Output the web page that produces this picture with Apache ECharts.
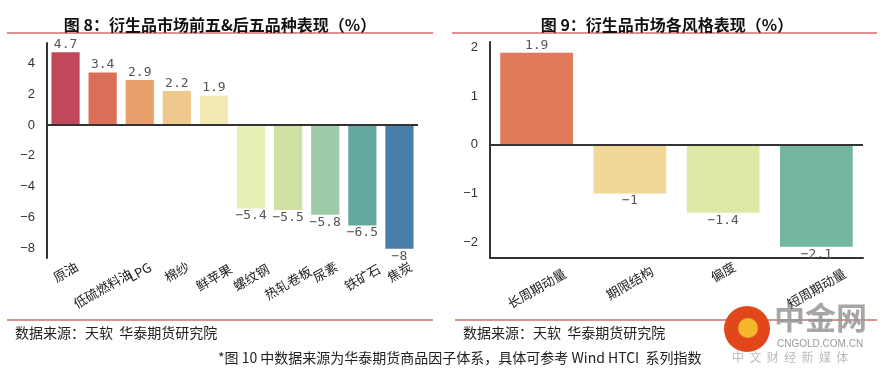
<!DOCTYPE html>
<html>
<head>
<meta charset="utf-8">
<script src="https://cdn.jsdelivr.net/npm/echarts@6/dist/echarts.min.js"></script>
<style>
  html, body { margin: 0; padding: 0; background: #fff; }
  #main { width: 881px; height: 376px; }
</style>
</head>
<body>
<div id="main"></div>
<script>
// 图8 前五&后五品种
var leftNames = ['原油', '低硫燃料油', 'LPG', '棉纱', '鲜苹果', '螺纹钢', '热轧卷板', '尿素', '铁矿石', '焦炭'];
var leftValues = [4.7, 3.4, 2.9, 2.2, 1.9, -5.4, -5.5, -5.8, -6.5, -8];
var leftColors = ['#C1485B', '#DB6E58', '#E89F6C', '#EEC98B', '#F4E9B2', '#E9F0B5', '#CFE2A3', '#9FCCA8', '#65A8A0', '#4A7EAC'];
var leftTicks = [-8, -6, -4, -2, 0, 2, 4];

// 图9 各风格
var rightNames = ['长周期动量', '期限结构', '偏度', '短周期动量'];
var rightValues = [1.9, -1, -1.4, -2.1];
var rightColors = ['#E07A5A', '#F1D899', '#DEE9A5', '#74B5A0'];
var rightTicks = [-2, -1, 0, 1, 2];

var cjk = '"Noto Sans CJK SC", sans-serif';
var redLine = '#D76B6B';

function minus(v) {
    return String(v).replace('-', '\u2212');
}

// 斜着的标签：越长越往下挪
function textLen(s) {
    var n = 0;
    for (var i = 0; i < s.length; i++) {
        n += s.charCodeAt(i) > 255 ? 1 : 0.6;
    }
    return n;
}
var rich = {};
for (var k = 0; k <= 14; k++) {
    var d = Math.max(0, (k / 2 - 2) * 5.5);
    rich['l' + k] = {
        fontFamily: cjk, fontSize: 13, color: '#222',
        padding: [d * 1.73, d, 0, 0]
    };
}
function catLabel(v) {
    var k = Math.round(textLen(v) * 2);
    return '{l' + k + '|' + v + '}';
}

function barData(values, colors) {
    return values.map(function (v, i) {
        return {
            value: v,
            itemStyle: { color: colors[i] },
            label: { position: v >= 0 ? 'top' : 'bottom' }
        };
    });
}

var zeroLine = {
    silent: true,
    symbol: 'none',
    label: { show: false },
    lineStyle: { color: '#333', width: 2, type: 'solid' },
    data: [{ yAxis: 0 }]
};

var valueLabel = {
    show: true,
    distance: 1,
    fontFamily: '"DejaVu Sans Mono", monospace',
    fontSize: 13,
    color: '#555',
    formatter: function (p) { return minus(p.value); }
};

var mcharts = echarts.init(document.getElementById('main'));
option = {
    animation: false,
    title: [
        {
            text: '图 8：衍生品市场前五&后五品种表现（%）',
            left: 215, top: 12, textAlign: 'center',
            textStyle: { fontFamily: cjk, fontSize: 16, fontWeight: 'bold', color: '#111' }
        },
        {
            text: '图 9：衍生品市场各风格表现（%）',
            left: 662, top: 12, textAlign: 'center',
            textStyle: { fontFamily: cjk, fontSize: 16, fontWeight: 'bold', color: '#111' }
        }
    ],
    grid: [
        { left: 47, right: 463, top: 43, bottom: 118 },
        { left: 490, right: 18, top: 42, bottom: 118 }
    ],
    xAxis: [
        {
            type: 'category',
            gridIndex: 0,
            data: leftNames,
            axisLine: { show: false },
            axisTick: { show: false },
            axisLabel: {
                interval: 0, rotate: 30, margin: 14,
                align: 'center', verticalAlign: 'middle',
                formatter: catLabel, rich: rich
            }
        },
        {
            type: 'category',
            gridIndex: 1,
            data: rightNames,
            axisLine: { show: true, onZero: false, lineStyle: { color: '#333', width: 2 } },
            axisTick: { show: false },
            axisLabel: {
                interval: 0, rotate: 30, margin: 14,
                align: 'center', verticalAlign: 'middle',
                formatter: catLabel, rich: rich
            }
        }
    ],
    yAxis: [
        {
            type: 'value',
            gridIndex: 0,
            min: -8.6, max: 5.3,
            splitLine: { show: false },
            axisLine: { show: true, lineStyle: { color: '#333', width: 2 } },
            axisTick: { show: false },
            axisLabel: {
                customValues: leftTicks, margin: 12,
                fontFamily: 'Liberation Sans, Arial', fontSize: 13, color: '#333',
                formatter: minus
            }
        },
        {
            type: 'value',
            gridIndex: 1,
            min: -2.33, max: 2.12,
            splitLine: { show: false },
            axisLine: { show: true, lineStyle: { color: '#333', width: 2 } },
            axisTick: { show: false },
            axisLabel: {
                customValues: rightTicks, margin: 12,
                fontFamily: 'Liberation Sans, Arial', fontSize: 13, color: '#333',
                formatter: minus
            }
        }
    ],
    series: [
        {
            type: 'bar',
            xAxisIndex: 0, yAxisIndex: 0,
            barCategoryGap: '24%',
            data: barData(leftValues, leftColors),
            label: valueLabel,
            markLine: zeroLine
        },
        {
            type: 'bar',
            xAxisIndex: 1, yAxisIndex: 1,
            barCategoryGap: '22%',
            data: barData(rightValues, rightColors),
            label: valueLabel,
            markLine: zeroLine
        }
    ],
    graphic: [
        { type: 'line', shape: { x1: 7, y1: 33, x2: 433, y2: 33 }, style: { stroke: redLine, lineWidth: 1.5 } },
        { type: 'line', shape: { x1: 452, y1: 33, x2: 877, y2: 33 }, style: { stroke: redLine, lineWidth: 1.5 } },
        { type: 'line', shape: { x1: 7, y1: 320, x2: 433, y2: 320 }, style: { stroke: redLine, lineWidth: 1.5 } },
        { type: 'line', shape: { x1: 455, y1: 320, x2: 877, y2: 320 }, style: { stroke: redLine, lineWidth: 1.5 } },
        { type: 'text', left: 15, top: 326, style: { text: '数据来源：天软  华泰期货研究院', font: '14px "Noto Sans CJK SC"', fill: '#222' } },
        { type: 'text', left: 463, top: 326, style: { text: '数据来源：天软  华泰期货研究院', font: '14px "Noto Sans CJK SC"', fill: '#222' } },
        { type: 'text', left: 218, top: 351, style: { text: '*图 10 中数据来源为华泰期货商品因子体系，具体可参考 Wind HTCI  系列指数', font: '14px "Noto Sans CJK SC"', fill: '#222' } },
        // 水印
        { type: 'circle', shape: { cx: 747, cy: 329, r: 23 }, style: { fill: '#E2471C' } },
        { type: 'circle', shape: { cx: 748, cy: 328, r: 10 }, style: { fill: '#F6B62F' } },
        { type: 'text', left: 774, top: 302, style: { text: '中金网', font: 'bold 31px "Noto Sans CJK SC"', fill: 'rgba(150,150,150,0.85)' } },
        { type: 'text', left: 777, top: 339, style: { text: 'CNGOLD.COM.CN', font: '10px "Liberation Sans"', fill: '#999' } },
        { type: 'text', left: 732, top: 351, style: { text: '中  文  财  经  新  媒  体', font: '12px "Noto Sans CJK SC"', fill: '#bbb' } }
    ]
};
mcharts.setOption(option, true);
</script>
</body>
</html>
